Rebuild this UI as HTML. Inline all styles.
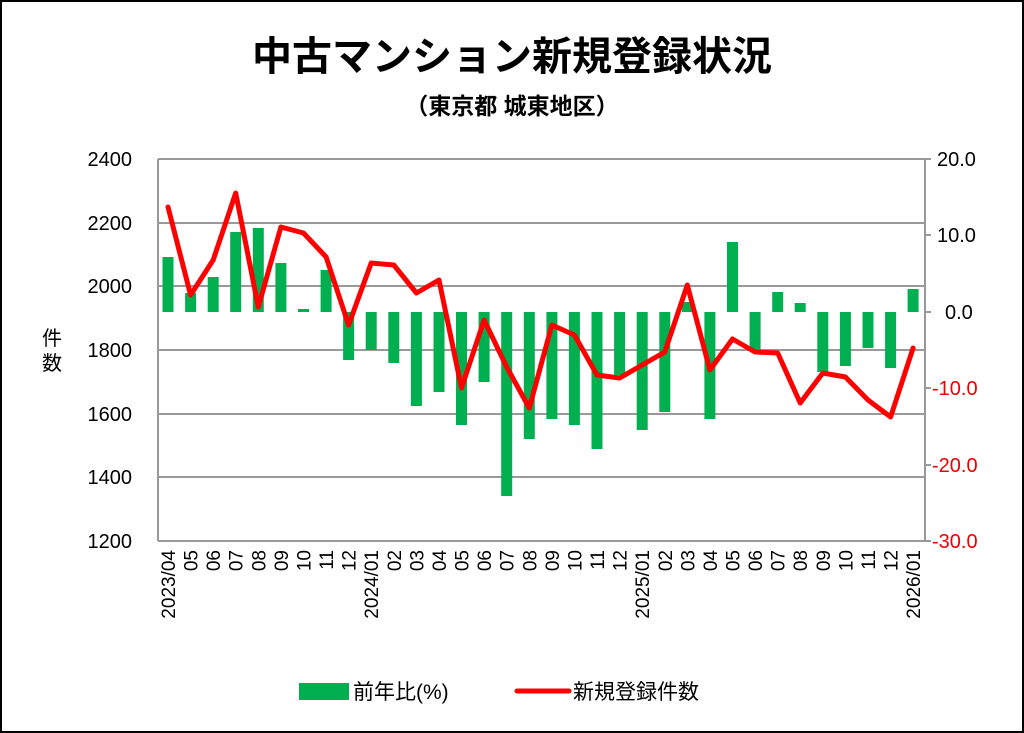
<!DOCTYPE html>
<html><head><meta charset="utf-8"><style>
html,body{margin:0;padding:0;background:#fff}
svg{display:block}
text{font-family:"Liberation Sans","Noto Sans CJK JP",sans-serif}
</style></head><body>
<svg width="1024" height="733" viewBox="0 0 1024 733" xmlns="http://www.w3.org/2000/svg">
<rect x="1" y="1" width="1022" height="731" fill="#fff" stroke="#000" stroke-width="2"/>
<text x="512" y="70" font-size="40" font-weight="bold" text-anchor="middle">中古マンション新規登録状況</text>
<text x="512" y="114" font-size="23" font-weight="bold" text-anchor="middle">（東京都 城東地区）</text>
<g stroke="#999" stroke-width="2">
<line x1="158" y1="159" x2="925" y2="159"/>
<line x1="158" y1="223" x2="925" y2="223"/>
<line x1="158" y1="286" x2="925" y2="286"/>
<line x1="158" y1="350" x2="925" y2="350"/>
<line x1="158" y1="414" x2="925" y2="414"/>
<line x1="158" y1="477" x2="925" y2="477"/>
<line x1="158" y1="541" x2="925" y2="541"/>
<line x1="158" y1="159" x2="158" y2="541"/>
<line x1="925" y1="159" x2="925" y2="541"/>
<line x1="925" y1="159" x2="931" y2="159"/>
<line x1="925" y1="235" x2="931" y2="235"/>
<line x1="925" y1="312" x2="931" y2="312"/>
<line x1="925" y1="388" x2="931" y2="388"/>
<line x1="925" y1="465" x2="931" y2="465"/>
<line x1="925" y1="541" x2="931" y2="541"/>
</g>
<g font-size="20" text-anchor="end">
<text x="132" y="166">2400</text><text x="132" y="230">2200</text><text x="132" y="293">2000</text>
<text x="132" y="357">1800</text><text x="132" y="421">1600</text><text x="132" y="484">1400</text><text x="132" y="548">1200</text>
</g>
<g font-size="20">
<text x="937" y="166">20.0</text><text x="937" y="242">10.0</text><text x="945" y="319">0.0</text>
<text x="932" y="395" fill="#e00">-10.0</text><text x="932" y="472" fill="#e00">-20.0</text><text x="932" y="548" fill="#e00">-30.0</text>
</g>
<text x="52" y="345" font-size="20" text-anchor="middle">件</text>
<text x="52" y="370" font-size="20" text-anchor="middle">数</text>
<g fill="#00b050">
<rect x="162.5" y="257" width="11" height="55"/>
<rect x="185.1" y="293" width="11" height="19"/>
<rect x="207.7" y="277" width="11" height="35"/>
<rect x="230.2" y="232" width="11" height="80"/>
<rect x="252.8" y="228" width="11" height="84"/>
<rect x="275.4" y="263" width="11" height="49"/>
<rect x="298" y="309" width="11" height="3"/>
<rect x="320.6" y="270" width="11" height="42"/>
<rect x="343.1" y="312" width="11" height="48"/>
<rect x="365.7" y="312" width="11" height="38"/>
<rect x="388.3" y="312" width="11" height="51"/>
<rect x="410.9" y="312" width="11" height="94"/>
<rect x="433.5" y="312" width="11" height="80"/>
<rect x="456" y="312" width="11" height="113"/>
<rect x="478.6" y="312" width="11" height="70"/>
<rect x="501.2" y="312" width="11" height="184"/>
<rect x="523.8" y="312" width="11" height="127"/>
<rect x="546.4" y="312" width="11" height="107"/>
<rect x="568.9" y="312" width="11" height="113"/>
<rect x="591.5" y="312" width="11" height="137"/>
<rect x="614.1" y="312" width="11" height="63"/>
<rect x="636.7" y="312" width="11" height="118"/>
<rect x="659.3" y="312" width="11" height="100"/>
<rect x="681.8" y="302" width="11" height="10"/>
<rect x="704.4" y="312" width="11" height="107"/>
<rect x="727" y="242" width="11" height="70"/>
<rect x="749.6" y="312" width="11" height="38"/>
<rect x="772.2" y="292" width="11" height="20"/>
<rect x="794.7" y="303" width="11" height="9"/>
<rect x="817.3" y="312" width="11" height="60"/>
<rect x="839.9" y="312" width="11" height="54"/>
<rect x="862.5" y="312" width="11" height="36"/>
<rect x="885.1" y="312" width="11" height="56"/>
<rect x="907.6" y="289" width="11" height="23"/>
</g>
<polyline fill="none" stroke="#f00" stroke-width="5" stroke-linejoin="round" stroke-linecap="round" points="168,207 190.6,295 213.2,260 235.7,193 258.3,307 280.9,227 303.5,233 326.1,257 348.6,325 371.2,263 393.8,265 416.4,293 439,280 461.5,388 484.1,320 506.7,367 529.3,408 551.9,325 574.4,335 597,375 619.6,378 642.2,365 664.8,352 687.3,285 709.9,370 732.5,339 755.1,352 777.7,353 800.2,403 822.8,373 845.4,377 868,400 890.6,417 913.1,348"/>
<g font-size="19" text-anchor="end">
<text transform="translate(175,550) rotate(-90)">2023/04</text>
<text transform="translate(197.6,550) rotate(-90)">05</text>
<text transform="translate(220.2,550) rotate(-90)">06</text>
<text transform="translate(242.7,550) rotate(-90)">07</text>
<text transform="translate(265.3,550) rotate(-90)">08</text>
<text transform="translate(287.9,550) rotate(-90)">09</text>
<text transform="translate(310.5,550) rotate(-90)">10</text>
<text transform="translate(333.1,550) rotate(-90)">11</text>
<text transform="translate(355.6,550) rotate(-90)">12</text>
<text transform="translate(378.2,550) rotate(-90)">2024/01</text>
<text transform="translate(400.8,550) rotate(-90)">02</text>
<text transform="translate(423.4,550) rotate(-90)">03</text>
<text transform="translate(446,550) rotate(-90)">04</text>
<text transform="translate(468.5,550) rotate(-90)">05</text>
<text transform="translate(491.1,550) rotate(-90)">06</text>
<text transform="translate(513.7,550) rotate(-90)">07</text>
<text transform="translate(536.3,550) rotate(-90)">08</text>
<text transform="translate(558.9,550) rotate(-90)">09</text>
<text transform="translate(581.4,550) rotate(-90)">10</text>
<text transform="translate(604,550) rotate(-90)">11</text>
<text transform="translate(626.6,550) rotate(-90)">12</text>
<text transform="translate(649.2,550) rotate(-90)">2025/01</text>
<text transform="translate(671.8,550) rotate(-90)">02</text>
<text transform="translate(694.3,550) rotate(-90)">03</text>
<text transform="translate(716.9,550) rotate(-90)">04</text>
<text transform="translate(739.5,550) rotate(-90)">05</text>
<text transform="translate(762.1,550) rotate(-90)">06</text>
<text transform="translate(784.7,550) rotate(-90)">07</text>
<text transform="translate(807.2,550) rotate(-90)">08</text>
<text transform="translate(829.8,550) rotate(-90)">09</text>
<text transform="translate(852.4,550) rotate(-90)">10</text>
<text transform="translate(875,550) rotate(-90)">11</text>
<text transform="translate(897.6,550) rotate(-90)">12</text>
<text transform="translate(920.1,550) rotate(-90)">2026/01</text>
</g>
<rect x="299" y="683" width="50" height="17" fill="#00b050"/>
<text x="353" y="699" font-size="21">前年比(%)</text>
<line x1="517" y1="691" x2="569" y2="691" stroke="#f00" stroke-width="5" stroke-linecap="round"/>
<text x="573" y="699" font-size="21">新規登録件数</text>
</svg>
</body></html>
